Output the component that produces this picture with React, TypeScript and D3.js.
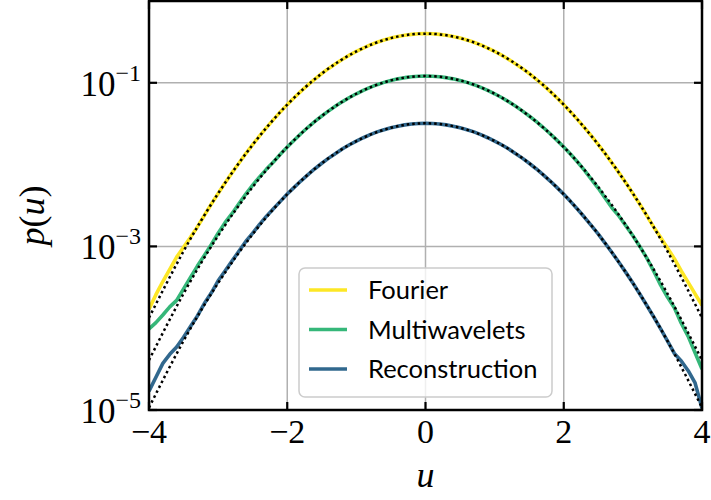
import React from "react";
import * as d3 from "d3";

// Sample points of u shared by all three measured PDFs
const uValues: number[] = d3.range(-40, 41).map((i) => i / 10);

// Measured PDFs p(u) at each u above
const fourier: number[] = [
  1.70e-4, 2.57e-4, 3.72e-4, 5.25e-4, 7.41e-4, 9.77e-4, 1.29e-3, 1.73e-3, 2.39e-3, 3.27e-3,
  4.44e-3, 5.96e-3, 7.92e-3, 1.04e-2, 1.36e-2, 1.75e-2, 2.24e-2, 2.83e-2, 3.55e-2, 4.41e-2,
  5.41e-2, 6.56e-2, 7.90e-2, 9.41e-2, 0.111, 0.130, 0.150, 0.171, 0.194, 0.218,
  0.242, 0.266, 0.290, 0.313, 0.333, 0.352, 0.368, 0.381, 0.391, 0.397,
  0.399,
  0.397, 0.391, 0.381, 0.368, 0.352, 0.333, 0.313, 0.290, 0.266, 0.242,
  0.218, 0.194, 0.171, 0.150, 0.130, 0.111, 9.41e-2, 7.90e-2, 6.56e-2, 5.41e-2,
  4.41e-2, 3.55e-2, 2.83e-2, 2.24e-2, 1.75e-2, 1.36e-2, 1.04e-2, 7.92e-3, 5.96e-3, 4.44e-3,
  3.27e-3, 2.39e-3, 1.73e-3, 1.29e-3, 9.55e-4, 7.08e-4, 5.01e-4, 3.63e-4, 2.63e-4, 1.91e-4,
];

const multiwavelets: number[] = [
  9.8e-5, 1.17e-4, 1.45e-4, 1.82e-4, 2.19e-4, 3.02e-4, 4.17e-4, 5.75e-4, 7.76e-4, 1.05e-3,
  1.45e-3, 1.95e-3, 2.51e-3, 3.31e-3, 4.37e-3, 5.62e-3, 7.08e-3, 8.81e-3, 1.076e-2, 1.34e-2,
  1.64e-2, 1.99e-2, 2.40e-2, 2.86e-2, 3.37e-2, 3.93e-2, 4.54e-2, 5.20e-2, 5.89e-2, 6.61e-2,
  7.34e-2, 8.07e-2, 8.79e-2, 9.48e-2, 0.1012, 0.1069, 0.1117, 0.1156, 0.1186, 0.1205,
  0.121,
  0.1205, 0.1186, 0.1156, 0.1117, 0.1069, 0.1012, 9.48e-2, 8.79e-2, 8.07e-2, 7.34e-2,
  6.61e-2, 5.89e-2, 5.20e-2, 4.54e-2, 3.93e-2, 3.37e-2, 2.86e-2, 2.40e-2, 1.99e-2, 1.64e-2,
  1.34e-2, 1.076e-2, 8.51e-3, 6.61e-3, 5.13e-3, 3.89e-3, 2.95e-3, 2.34e-3, 1.78e-3, 1.35e-3,
  1.00e-3, 7.24e-4, 5.01e-4, 3.39e-4, 2.40e-4, 1.78e-4, 1.15e-4, 7.94e-5, 5.01e-5, 3.16e-5,
];

const reconstruction: number[] = [
  1.70e-5, 2.51e-5, 3.72e-5, 4.79e-5, 5.89e-5, 7.76e-5, 1.05e-4, 1.41e-4, 2.00e-4, 2.69e-4,
  3.80e-4, 5.01e-4, 6.61e-4, 8.71e-4, 1.15e-3, 1.45e-3, 1.86e-3, 2.34e-3, 2.88e-3, 3.55e-3,
  4.37e-3, 5.26e-3, 6.34e-3, 7.55e-3, 8.90e-3, 1.038e-2, 1.20e-2, 1.37e-2, 1.56e-2, 1.75e-2,
  1.94e-2, 2.13e-2, 2.32e-2, 2.51e-2, 2.67e-2, 2.82e-2, 2.95e-2, 3.06e-2, 3.13e-2, 3.18e-2,
  3.20e-2,
  3.18e-2, 3.13e-2, 3.06e-2, 2.95e-2, 2.82e-2, 2.67e-2, 2.51e-2, 2.32e-2, 2.13e-2, 1.94e-2,
  1.75e-2, 1.56e-2, 1.37e-2, 1.20e-2, 1.038e-2, 8.90e-3, 7.55e-3, 6.34e-3, 5.26e-3, 4.33e-3,
  3.53e-3, 2.84e-3, 2.27e-3, 1.79e-3, 1.41e-3, 1.09e-3, 8.36e-4, 6.35e-4, 4.78e-4, 3.56e-4,
  2.62e-4, 1.91e-4, 1.38e-4, 9.9e-5, 7.0e-5, 4.91e-5, 3.98e-5, 3.02e-5, 2.14e-5, 1.05e-5,
];

// Gaussian fits, sampled every 0.5 in u
const fitU: number[] = [-4, -3.5, -3, -2.5, -2, -1.5, -1, -0.5, 0, 0.5, 1, 1.5, 2, 2.5, 3, 3.5, 4];
const fourierFit: number[] = [
  1.34e-4, 8.73e-4, 4.44e-3, 1.75e-2, 5.41e-2, 0.130, 0.242, 0.352, 0.399,
  0.352, 0.242, 0.130, 5.41e-2, 1.75e-2, 4.44e-3, 8.73e-4, 1.34e-4,
];
const multiwaveletsFit: number[] = [
  4.06e-5, 2.65e-4, 1.35e-3, 5.32e-3, 1.64e-2, 3.93e-2, 7.35e-2, 0.107, 0.121,
  0.107, 7.35e-2, 3.93e-2, 1.64e-2, 5.32e-3, 1.35e-3, 2.65e-4, 4.06e-5,
];
const reconstructionFit: number[] = [
  1.07e-5, 7.0e-5, 3.56e-4, 1.41e-3, 4.34e-3, 1.04e-2, 1.94e-2, 2.82e-2, 3.20e-2,
  2.82e-2, 1.94e-2, 1.04e-2, 4.34e-3, 1.41e-3, 3.56e-4, 7.0e-5, 1.07e-5,
];

const seriesNames: string[] = ["Fourier", "Multiwavelets", "Reconstruction"];
const seriesColors: string[] = ["#fde725", "#35b779", "#31688e"];

const xTicks: number[] = [-4, -2, 0, 2, 4];
const yTickExponents: number[] = [-1, -3, -5];

const W = 711;
const H = 500;
const plot = { left: 149, right: 702, top: 1, bottom: 410 };

const mathFont = "'Liberation Serif', 'DejaVu Serif', serif";

export default function App() {
  const x = d3.scaleLinear().domain([-4, 4]).range([plot.left, plot.right]);
  const y = d3.scaleLog().domain([1e-5, 1]).range([plot.bottom, plot.top]);

  const dataLine = d3
    .line<number>()
    .x((_, i) => x(uValues[i]))
    .y((d) => y(d));
  const fitLine = d3
    .line<number>()
    .x((_, i) => x(fitU[i]))
    .y((d) => y(d))
    .curve(d3.curveNatural);

  const dataSeries = [fourier, multiwavelets, reconstruction];
  const fitSeries = [fourierFit, multiwaveletsFit, reconstructionFit];

  const gridColor = "#b0b0b0";
  const tickLen = 8;

  return (
    <svg
      width={W}
      height={H}
      style={{ position: "absolute", left: 0, top: 0, background: "#fff" }}
    >
      <defs>
        <clipPath id="plotClip">
          <rect
            x={plot.left}
            y={plot.top}
            width={plot.right - plot.left}
            height={plot.bottom - plot.top}
          />
        </clipPath>
      </defs>

      {/* grid */}
      <g stroke={gridColor} strokeWidth={1.5}>
        {xTicks.map((t) => (
          <line key={"gx" + t} x1={x(t)} x2={x(t)} y1={plot.top} y2={plot.bottom} />
        ))}
        {yTickExponents.map((e) => (
          <line
            key={"gy" + e}
            x1={plot.left}
            x2={plot.right}
            y1={y(Math.pow(10, e))}
            y2={y(Math.pow(10, e))}
          />
        ))}
      </g>

      {/* measured PDFs with dotted Gaussian fits on top */}
      <g clipPath="url(#plotClip)" fill="none">
        {dataSeries.map((s, i) => (
          <path
            key={"d" + i}
            d={dataLine(s) || ""}
            stroke={seriesColors[i]}
            strokeWidth={3.6}
            strokeLinejoin="round"
          />
        ))}
        {fitSeries.map((s, i) => (
          <path
            key={"f" + i}
            d={fitLine(s) || ""}
            stroke="#000"
            strokeWidth={2.5}
            strokeDasharray="2.5 3"
          />
        ))}
      </g>

      {/* ticks, inward on all four sides */}
      <g stroke="#000" strokeWidth={2.2}>
        {xTicks.map((t) => (
          <g key={"tx" + t}>
            <line x1={x(t)} x2={x(t)} y1={plot.bottom} y2={plot.bottom - tickLen} />
            <line x1={x(t)} x2={x(t)} y1={plot.top} y2={plot.top + tickLen} />
          </g>
        ))}
        {yTickExponents.map((e) => {
          const yy = y(Math.pow(10, e));
          return (
            <g key={"ty" + e}>
              <line x1={plot.left} x2={plot.left + tickLen} y1={yy} y2={yy} />
              <line x1={plot.right} x2={plot.right - tickLen} y1={yy} y2={yy} />
            </g>
          );
        })}
      </g>

      {/* frame */}
      <rect
        x={plot.left}
        y={plot.top}
        width={plot.right - plot.left}
        height={plot.bottom - plot.top}
        fill="none"
        stroke="#000"
        strokeWidth={2.5}
      />

      {/* tick labels */}
      <g fontFamily={mathFont} fill="#000">
        {xTicks.map((t) => (
          <text key={"lx" + t} x={x(t)} y={443} fontSize={34} textAnchor="middle">
            {t < 0 ? "\u2212" + Math.abs(t) : String(t)}
          </text>
        ))}
        {yTickExponents.map((e) => (
          <text
            key={"ly" + e}
            x={141}
            y={y(Math.pow(10, e)) + 13}
            fontSize={35}
            textAnchor="end"
          >
            <tspan>10</tspan>
            <tspan fontSize={24} dy={-15}>
              {"\u2212" + Math.abs(e)}
            </tspan>
          </text>
        ))}
      </g>

      {/* axis labels */}
      <text
        x={x(0)}
        y={487}
        fontFamily={mathFont}
        fontStyle="italic"
        fontSize={36}
        textAnchor="middle"
      >
        u
      </text>
      <text
        transform={`translate(44,${(plot.top + plot.bottom) / 2 + 10}) rotate(-90)`}
        fontFamily={mathFont}
        fontSize={36}
        textAnchor="middle"
      >
        <tspan fontStyle="italic">p</tspan>
        <tspan>(</tspan>
        <tspan fontStyle="italic">u</tspan>
        <tspan>)</tspan>
      </text>

      {/* legend */}
      <g>
        <rect
          x={299}
          y={268}
          width={253}
          height={129}
          rx={6}
          fill="#fff"
          fillOpacity={0.8}
          stroke="#cccccc"
          strokeWidth={1.5}
        />
        {seriesNames.map((name, i) => {
          const ly = 290 + i * 39.5;
          return (
            <g key={"lg" + i}>
              <line x1={309} x2={347} y1={ly} y2={ly} stroke={seriesColors[i]} strokeWidth={3.6} />
              <text
                x={368}
                y={ly + 9}
                fontFamily="Lato, 'Open Sans', sans-serif"
                fontSize={25.5}
                fill="#000"
              >
                {name}
              </text>
            </g>
          );
        })}
      </g>
    </svg>
  );
}
